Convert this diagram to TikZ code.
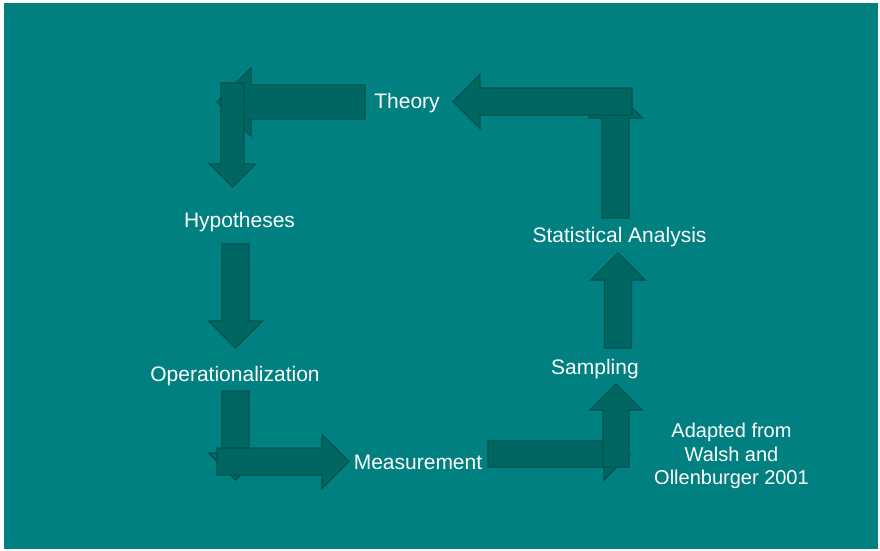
\documentclass[tikz,border=0pt]{standalone}
\usepackage{fontspec}
\setmainfont{Liberation Sans}

\definecolor{slidebg}{RGB}{0,128,128}
\definecolor{arrowfill}{RGB}{0,102,98}
\definecolor{arrowline}{RGB}{0,84,78}

\tikzset{
  stage/.style={text=white,font=\fontsize{21}{25}\selectfont,anchor=base,inner sep=0pt},
  note/.style={text=white,font=\fontsize{20}{23.5}\selectfont,align=center,inner sep=0pt},
  blockarrow/.style={fill=arrowfill,draw=arrowline,line width=1.2pt,line join=miter}
}

% tail, angle, length, half width of the shaft
\newcommand{\bigarrow}[4]{%
  \draw[blockarrow,shift={#1},rotate=#2]
    (0,-#4) -- ({#3-2*#4},-#4) -- ({#3-2*#4},{-2*#4}) -- (#3,0)
    -- ({#3-2*#4},{2*#4}) -- ({#3-2*#4},#4) -- (0,#4) -- cycle;}

\begin{document}
\begin{tikzpicture}[x=1pt,y=-1pt]
  \useasboundingbox (0,0) rectangle (880,550);
  \fill[white] (0,0) rectangle (880,550);
  \fill[slidebg] (4,3) rectangle (878,549);

  % top left corner
  \bigarrow{(365,102)}{180}{148}{17}
  \bigarrow{(232.5,83)}{270}{104}{11.5}
  % top right corner
  \bigarrow{(615.5,218)}{90}{127}{13.5}
  \bigarrow{(632,101.5)}{180}{179}{13.5}
  % left side
  \bigarrow{(235.5,244)}{270}{104}{13.5}
  % right side
  \bigarrow{(618,348)}{90}{95}{13.5}
  % bottom left corner
  \bigarrow{(235.5,391)}{270}{89}{13.5}
  \bigarrow{(217,461.5)}{0}{132}{13.5}
  % bottom right corner
  \bigarrow{(488,454)}{0}{142}{13}
  \bigarrow{(616,467)}{90}{83}{13}

  \node[stage] (theory) at (407,108.5) {Theory};
  \node[stage] (hyp) at (239.5,227) {Hypotheses};
  \node[stage] (oper) at (235,381.5) {Operationalization};
  \node[stage] (meas) at (418,469) {Measurement};
  \node[stage] (samp) at (595,374.5) {Sampling};
  \node[stage] (stat) at (619.5,242.5) {Statistical Analysis};
  \node[note] (source) at (731.5,456) {Adapted from\\Walsh and\\Ollenburger 2001};
\end{tikzpicture}
\end{document}
